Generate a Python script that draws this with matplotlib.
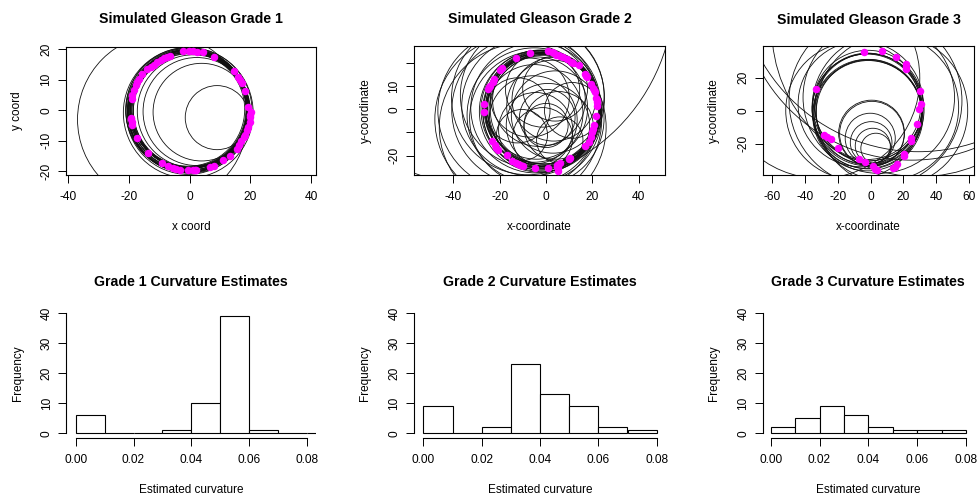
import matplotlib
matplotlib.use("Agg")
import matplotlib.pyplot as plt
from matplotlib.patches import Circle

plt.rcParams["font.family"] = ["Liberation Sans", "DejaVu Sans"]
plt.rcParams["axes.unicode_minus"] = False

W, H = 979, 498

# ---- Grade 1 : simulated points and fitted circles ----
g1_x = [-6.6, -7.5, -8.6, -9.6, -10.7, -11.8, -12.9, -14.0, -15.6, -17.3, -17.8, -18.4,
        -18.9, -19.2, -19.4, -19.2, -18.9, -17.5, -13.7, -9.3, -7.1, -5.5, -3.3, -0.5,
        1.1, 2.0, 6.6, 7.9, 11.0, 13.2, 15.4, 17.0, 17.8, 18.3, 18.9, 19.2, 19.7, 20.0,
        20.3, 19.2, 18.3, 17.3, 16.7, 15.9, 14.5, -2.2, -0.2, 0.9, 2.4, 4.2, 7.9,
        1.6, -4.4, -16.8, -19.5, 19.9, 16.2]
g1_y = [17.9, 17.5, 17.0, 16.4, 15.7, 15.0, 14.3, 13.5, 11.8, 9.3, 8.4, 6.6,
        4.9, 3.8, -2.5, -3.8, -4.9, -9.0, -14.0, -17.2, -18.3, -19.0, -19.4, -19.7,
        -19.7, -19.6, -18.6, -18.3, -16.4, -15.0, -12.6, -10.2, -8.8, -8.0, -6.6, -5.5, -3.8, -2.2,
        -0.5, 1.1, 6.3, 9.1, 9.9, 11.0, 12.8, 19.4, 19.5, 19.4, 19.2, 19.0, 17.5,
        -19.7, -19.2, 10.4, -3.0, -1.5, -11.5]

g1_cx = [-0.4, -0.2, -0.6, -0.3, -0.5, 0.0, -0.8, -0.1, -0.4, -0.7, 0.1, -0.3, -0.5, -0.2,
         -0.6, -0.4, 0.2, -0.9, -0.1, -0.3, -0.5, 0.0,
         -9.0, -0.5, 9.0, 3.9, 2.3, 1.2]
g1_cy = [0.0, 0.3, -0.2, 0.5, -0.4, 0.1, 0.2, -0.5, 0.4, -0.1, 0.0, -0.3, 0.6, 0.2,
         -0.6, 0.1, -0.2, 0.0, 0.5, -0.4, 0.3, -0.1,
         -3.0, -0.8, -2.4, -0.6, -0.4, -0.3]
g1_r = [19.6, 19.4, 19.9, 19.2, 20.1, 19.0, 20.3, 19.5, 18.9, 19.7, 18.7, 20.0, 19.3, 19.8,
        20.4, 19.1, 18.8, 20.2, 19.5, 19.9, 18.6, 20.5,
        28.0, 21.4, 10.5, 16.0, 17.7, 18.5]

# ---- Grade 2 ----
g2_x = [-13.2, -6.9, 1.0, 2.7, 4.2, 6.1, 7.5, 10.7, 11.4, -19.2, -22.4, -24.3, -25.0,
        -26.7, -26.7, 16.6, 17.6, 19.5, 20.1, 21.0, 21.5, 22.0, 21.7, 20.1, 19.8, 19.4,
        18.4, 16.9, -23.3, -22.1, -20.7, -14.9, -13.2, -11.3, -9.8, -4.8, 0.7, 4.6, 6.1,
        5.3, 9.7, 10.4, 3.5, 5.2, 8.8, 20.6, 21.8, 22.0, 20.5, -24.6, -23.0, -21.5,
        -12.2, 5.0, 4.8, -19.8, 17.0, -17.0, 14.0]
g2_y = [22.0, 24.2, 25.2, 24.5, 23.5, 22.8, 22.3, 20.4, 19.8, 17.6, 13.2, 10.0, 8.9,
        2.4, -1.1, 15.1, 13.7, 10.8, 9.3, 7.2, 5.0, 2.9, -3.1, -8.3, -10.0, -11.9,
        -14.0, -16.0, -13.6, -15.5, -17.5, -22.2, -23.2, -24.0, -24.6, -25.5, -25.5, -24.0, -23.2,
        -26.5, -21.5, -20.8, 24.0, 23.2, 21.5, 8.3, 4.0, 1.5, -6.8, 9.5, 11.8, -16.5,
        -23.6, -25.3, -24.8, 17.0, 14.5, -19.5, 19.0]

g2_cx = [-1.5, -1.0, -2.0, -1.2, -1.8, -0.8, -2.3, -1.4, -1.6, -0.5, -2.6, -1.1,
         11.3, -12.3, -1.5, -1.5, 3.3, -7.0, -5.6, 5.4, 3.0, -5.1, -3.1, 0.8, 3.9, -4.5,
         4.0, -4.1, 5.9, -10.4, 0.0, 0.5,
         -8.7, -11.7, -12.0, -6.4, -6.0, -4.0, -4.5, -5.1, -7.8, -10.1, -28.2]
g2_cy = [-0.5, -0.2, -0.8, -1.0, 0.2, -0.6, -0.3, 0.4, -1.3, 0.0, -0.9, 0.8,
         -0.5, -0.5, 8.3, -12.3, 4.3, 5.0, -4.6, -7.4, 1.1, -1.8, 4.0, -6.9, 8.9, -8.8,
         -2.5, 0.5, -13.3, -11.1, -7.0, -3.5,
         -0.5, -0.5, -4.3, 1.3, 6.0, -4.0, 0.6, -2.6, 4.8, -7.7, 50.9]
g2_r = [24.8, 24.2, 25.4, 24.6, 25.0, 23.8, 25.8, 24.0, 25.6, 23.6, 26.2, 24.4,
        12.0, 14.0, 16.0, 13.0, 18.0, 17.0, 19.0, 15.0, 20.0, 21.0, 20.0, 18.0, 14.0, 16.0,
        19.0, 22.0, 10.0, 11.0, 9.5, 12.0,
        32.0, 35.0, 36.0, 30.0, 31.0, 29.0, 28.0, 29.0, 33.0, 36.0, 83.5]

# ---- Grade 3 ----
g3_x = [-4.0, 6.7, 15.6, 21.3, 21.7, 21.3, -33.4, 29.8, 30.6, 29.4, 28.3, 24.7, 24.3,
        20.2, 20.6, 16.2, 14.8, 13.6, -28.3, -26.3, -24.3, -19.8, -7.1, -3.6, 1.4, 2.6, 4.0]
g3_y = [35.6, 36.0, 32.6, 28.0, 26.6, 25.4, 13.0, 12.0, 4.0, 1.0, -8.0, -16.6, -18.6,
        -26.0, -27.6, -32.6, -34.0, -34.6, -14.6, -16.0, -17.4, -22.6, -29.4, -31.4, -33.4, -35.4, -36.0]

g3_cx = [-1.6, -1.6, -1.2, -2.0, -1.5, -1.0, -2.2, -1.4, -1.8,
         0.6, 0.8, -0.2, 0.35, 1.35, 3.25,
         9.0, 13.0, -10.0, -6.0, 5.0, 3.0, 25.0, 30.0, -30.7, 29.0]
g3_cy = [3.0, -3.0, 2.0, -2.0, 0.5, -1.0, 1.0, -2.5, 2.6,
         -13.7, -14.0, -16.8, -19.35, -21.35, -22.85,
         2.0, 0.0, 0.0, 4.0, 8.0, 6.0, 75.0, 50.0, 19.6, 84.9]
g3_r = [33.5, 33.5, 32.5, 33.0, 34.0, 32.0, 33.2, 32.8, 32.2,
        20.0, 19.6, 15.2, 12.65, 10.65, 9.15,
        44.5, 46.0, 41.5, 38.0, 46.0, 52.5, 105.0, 90.0, 60.6, 109.8]

# ---- curvature histograms (bins of width 0.01 starting at 0) ----
bin_left = [0.00, 0.01, 0.02, 0.03, 0.04, 0.05, 0.06, 0.07, 0.08]
g1_counts = [6, 0, 0, 1, 10, 39, 1, 0, 0]
g2_counts = [9, 0, 2, 23, 13, 9, 2, 1]
g3_counts = [2, 5, 9, 6, 2, 1, 1, 1]


def add_px_axes(fig, left, top, right, bottom):
    return fig.add_axes([left / W, 1 - bottom / H, (right - left) / W, (bottom - top) / H])


def style_axes(ax, title, xlabel, ylabel, w_px, h_px, title_px):
    ax.set_title(title, fontsize=10.2, fontweight="bold", pad=title_px * 0.72)
    ax.set_xlabel(xlabel, fontsize=8.5)
    ax.set_ylabel(ylabel, fontsize=8.5)
    ax.xaxis.set_label_coords(0.5, -46.0 / h_px)
    ax.yaxis.set_label_coords(-42.5 / w_px, 0.5)
    ax.tick_params(axis="both", labelsize=8.6, length=5.6, width=0.7, direction="out")
    ax.tick_params(axis="x", pad=6.0)
    ax.tick_params(axis="y", pad=4.2)
    for lab in ax.get_yticklabels():
        lab.set_rotation(90)
        lab.set_va("center")


def circle_panel(ax, px, py, cx, cy, r, xlim, ylim):
    for a, b, rad in zip(cx, cy, r):
        ax.add_patch(Circle((a, b), rad, fill=False, edgecolor="#111111", lw=0.6, zorder=1))
    ax.plot(px, py, "o", color="#FF00FF", ms=5.4, mew=0, zorder=3)
    ax.set_xlim(xlim)
    ax.set_ylim(ylim)
    for s in ax.spines.values():
        s.set_linewidth(0.8)


def hist_panel(ax, counts):
    ax.bar(bin_left[:len(counts)], counts, width=0.01, align="edge",
           facecolor="white", edgecolor="black", lw=0.8)
    ax.set_xlim(-0.0032, 0.0832)
    ax.set_ylim(-1.6, 41.6)
    ax.set_xticks([0.0, 0.02, 0.04, 0.06, 0.08], ["0.00", "0.02", "0.04", "0.06", "0.08"])
    ax.set_yticks([0, 10, 20, 30, 40], ["0", "10", "20", "30", "40"])
    ax.spines["top"].set_visible(False)
    ax.spines["right"].set_visible(False)
    ax.spines["left"].set_bounds(0, 40)
    ax.spines["bottom"].set_bounds(0, 0.08)
    ax.spines["left"].set_linewidth(0.8)
    ax.spines["bottom"].set_linewidth(0.8)


fig = plt.figure(figsize=(W / 100, H / 100), dpi=100)

# top row
ax1 = add_px_axes(fig, 66, 47, 316, 175)
circle_panel(ax1, g1_x, g1_y, g1_cx, g1_cy, g1_r, (-40.8, 41.6), (-21.2, 20.75))
ax1.set_xticks([-40, -20, 0, 20, 40], ["-40", "-20", "0", "20", "40"])
ax1.set_yticks([-20, -10, 0, 10, 20], ["-20", "-10", "0", "10", "20"])
style_axes(ax1, "Simulated Gleason Grade 1", "x coord", "y coord", 250, 128, 23.6)

ax2 = add_px_axes(fig, 414, 46, 665, 175)
circle_panel(ax2, g2_x, g2_y, g2_cx, g2_cy, g2_r, (-57.0, 51.3), (-28.3, 27.2))
ax2.set_xticks([-40, -20, 0, 20, 40], ["-40", "-20", "0", "20", "40"])
ax2.set_yticks([-20, -10, 0, 10, 20], ["-20", "", "0", "10", ""])
style_axes(ax2, "Simulated Gleason Grade 2", "x-coordinate", "y-coordinate", 251, 129, 23.0)

ax3 = add_px_axes(fig, 762.7, 46.5, 974.3, 175)
circle_panel(ax3, g3_x, g3_y, g3_cx, g3_cy, g3_r, (-65.5, 63.0), (-39.0, 38.8))
ax3.set_xticks([-60, -40, -20, 0, 20, 40, 60], ["-60", "-40", "-20", "0", "20", "40", "60"])
ax3.set_yticks([-20, 0, 20], ["-20", "0", "20"])
style_axes(ax3, "Simulated Gleason Grade 3", "x-coordinate", "y-coordinate", 211.6, 128.5, 23.0)

# bottom row
ax4 = add_px_axes(fig, 66.4, 308.5, 316.3, 438.1)
hist_panel(ax4, g1_counts)
style_axes(ax4, "Grade 1 Curvature Estimates", "Estimated curvature", "Frequency", 250, 129.6, 22.7)

ax5 = add_px_axes(fig, 414, 308.5, 666, 438.1)
hist_panel(ax5, g2_counts)
style_axes(ax5, "Grade 2 Curvature Estimates", "Estimated curvature", "Frequency", 252, 129.6, 22.7)

ax6 = add_px_axes(fig, 762.9, 308.5, 973.8, 438.1)
hist_panel(ax6, g3_counts)
style_axes(ax6, "Grade 3 Curvature Estimates", "Estimated curvature", "Frequency", 211, 129.6, 22.7)

fig.savefig("out.png", dpi=100)
